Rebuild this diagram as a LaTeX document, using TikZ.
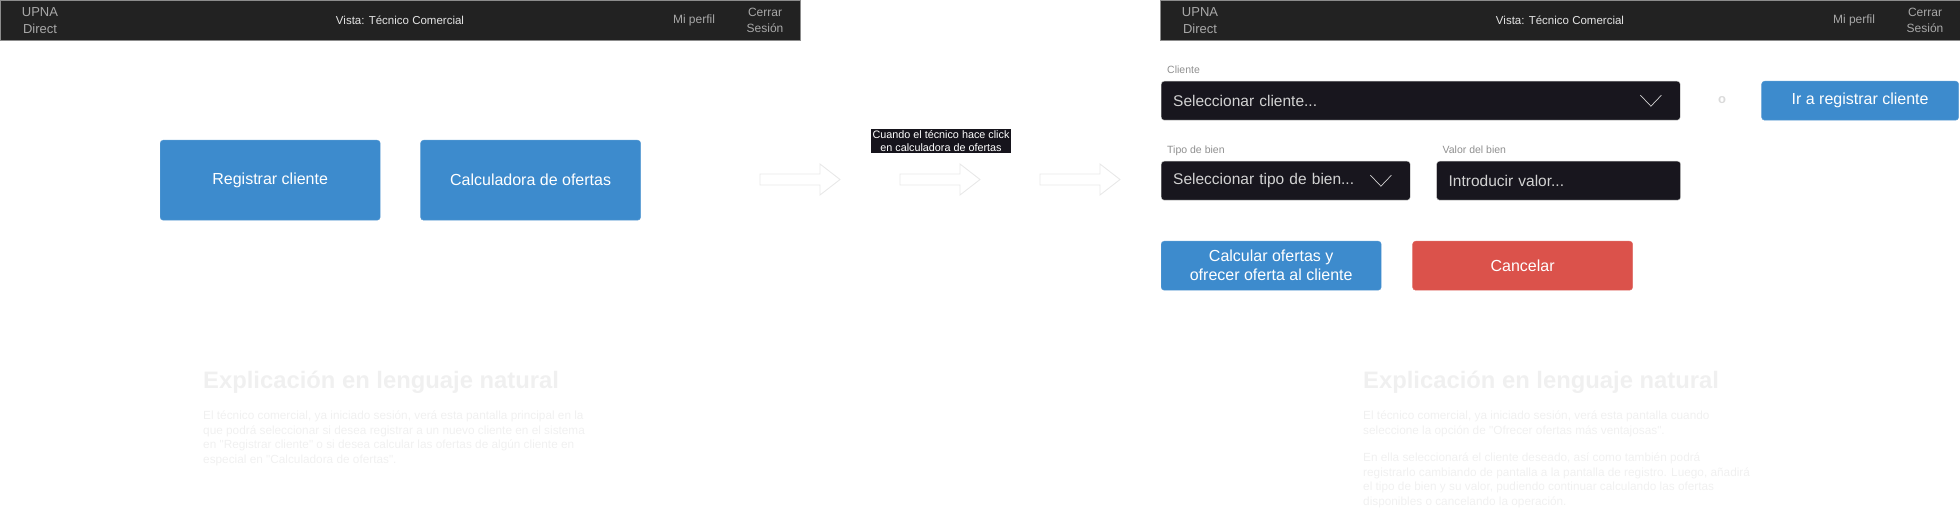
\documentclass[tikz,border=0pt]{standalone}
\usepackage{fontspec}
\setmainfont{Liberation Sans}[Ligatures=TeXOff]
\usetikzlibrary{positioning}

\definecolor{barbg}{HTML}{222222}
\definecolor{barline}{HTML}{8C8C8C}
\definecolor{upnagray}{HTML}{A8A8A8}
\definecolor{vistagray}{HTML}{E4E4E4}
\definecolor{btnblue}{HTML}{3D8BCD}
\definecolor{btnred}{HTML}{DB524B}
\definecolor{fieldbg}{HTML}{18161E}
\definecolor{fieldline}{HTML}{CFCFCF}
\definecolor{fieldtext}{HTML}{D2D2D2}
\definecolor{labelgray}{HTML}{8F8F8F}
\definecolor{ghost}{HTML}{F0F0F0}
\definecolor{arrowline}{HTML}{E8E8E8}
\definecolor{notebg}{HTML}{16141C}

\tikzset{
    topbar/.style={fill=barbg, draw=barline, line width=1pt, minimum width=800pt,
        minimum height=40pt, inner sep=0pt, anchor=north west},
    bartext/.style={align=center, inner sep=0pt, font=\fontsize{12}{16}\selectfont},
    bigbtn/.style={fill=btnblue, draw=btnblue!85!white, rounded corners=3pt, text=white,
        minimum width=220pt, minimum height=80pt, inner sep=0pt,
        font=\fontsize{16}{19}\selectfont, align=center},
    smallbtn/.style={bigbtn, minimum height=49pt},
    field/.style={fill=fieldbg, draw=fieldline, rounded corners=3pt, text=fieldtext,
        minimum height=39pt, inner xsep=12pt, inner ysep=0pt, align=left,
        font=\fontsize{15.5}{18}\selectfont, anchor=north west},
    fieldlabel/.style={text=labelgray, inner sep=0pt, anchor=base west,
        font=\fontsize{10.5}{12}\selectfont},
    chevron/.style={draw=fieldtext, line width=0.7pt},
    ghosttitle/.style={text=ghost, inner sep=0pt, anchor=base west,
        font=\fontsize{23.8}{28}\selectfont\bfseries},
    ghostbody/.style={text=ghost, inner sep=0pt, anchor=north west, align=left,
        font=\fontsize{11.8}{14.5}\selectfont},
    ghostarrow/.style={draw=arrowline, line width=0.9pt},
}

\begin{document}
\begin{tikzpicture}[x=1pt,y=-1pt]
    \useasboundingbox (0,0) rectangle (1960,513);

    % Left screen: header
    \node[topbar] (barleft) at (0,0) {};
    \node[bartext, text=upnagray, font=\fontsize{13}{17}\selectfont] (upnaleft) at (40,20.5) {UPNA\\Direct};
    \node[bartext, text=vistagray, font=\fontsize{11.5}{14}\selectfont] (vistaleft) at (400,20) {Vista: Técnico Comercial};
    \node[bartext, text=upnagray] (perfilleft) at (694,20) {Mi perfil};
    \node[bartext, text=upnagray] (cerrarleft) at (765,20.5) {Cerrar\\Sesión};

    % Left screen: main buttons
    \node[bigbtn, anchor=north west] (registrar) at (160,140) {Registrar cliente};
    \node[bigbtn, right=40pt of registrar] (calculadora) {Calculadora de ofertas};

    % Left screen: explanation (very light)
    \node[ghosttitle] (titleleft) at (203,388) {Explicación en lenguaje natural};
    \node[ghostbody] (textleft) at (203,411) {El técnico comercial, ya iniciado sesión, verá esta pantalla principal en la\\
        que podrá seleccionar si desea registrar a un nuevo cliente en el sistema\\
        en "Registrar cliente" o si desea calcular las ofertas de algún cliente en\\
        especial en "Calculadora de ofertas".};

    % Hollow arrows between the screens
    \foreach \x in {760,900,1040}
        \draw[ghostarrow] (\x,174) -- (\x+60,174) -- (\x+60,164) -- (\x+80,179.5)
            -- (\x+60,195) -- (\x+60,185) -- (\x,185) -- cycle;
    \node[fill=notebg, text=white, inner xsep=1.5pt, inner ysep=1.5pt, align=center,
        font=\fontsize{10.8}{12.5}\selectfont] (nota) at (941,141)
        {Cuando el técnico hace click\\en calculadora de ofertas};

    % Right screen: header
    \node[topbar] (barright) at (1160,0) {};
    \node[bartext, text=upnagray, font=\fontsize{13}{17}\selectfont] (upnaright) at (1200,20.5) {UPNA\\Direct};
    \node[bartext, text=vistagray, font=\fontsize{11.5}{14}\selectfont] (vistaright) at (1560,20) {Vista: Técnico Comercial};
    \node[bartext, text=upnagray] (perfilright) at (1854,20) {Mi perfil};
    \node[bartext, text=upnagray] (cerrarright) at (1925,20.5) {Cerrar\\Sesión};

    % Right screen: client row
    \node[field, text width=495pt] (cliente) at (1161,81) {Seleccionar cliente...};
    \draw[chevron] ([shift={(-40,-5.5)}]cliente.east) -- ([shift={(-29.5,5.5)}]cliente.east)
        -- ([shift={(-19,-5.5)}]cliente.east);
    \node[fieldlabel] (lblcliente) at ([xshift=6pt,yshift=7pt]cliente.north west) {Cliente};
    \node[text=ghost!80!gray, font=\fontsize{13}{15}\selectfont\bfseries] (oletra) at (1722,100.5) {o};
    \node[smallbtn, minimum width=197pt, minimum height=39pt, right=81pt of cliente] (irregistrar) {Ir a registrar cliente};

    % Right screen: type and value row
    \node[field, text width=225pt] (tipo) at (1161,161) {Seleccionar tipo de bien...};
    \draw[chevron] ([shift={(-40,-5.5)}]tipo.east) -- ([shift={(-29.5,5.5)}]tipo.east)
        -- ([shift={(-19,-5.5)}]tipo.east);
    \node[fieldlabel] (lbltipo) at ([xshift=6pt,yshift=7pt]tipo.north west) {Tipo de bien};
    \node[field, text width=220pt, right=26pt of tipo] (valor) {Introducir valor...};
    \node[fieldlabel] (lblvalor) at ([xshift=6pt,yshift=7pt]valor.north west) {Valor del bien};

    % Right screen: action buttons
    \node[smallbtn, anchor=north west] (calcular) at (1161,241) {Calcular ofertas y\\ofrecer oferta al cliente};
    \node[smallbtn, fill=btnred, draw=btnred!85!white, right=31pt of calcular] (cancelar) {Cancelar};

    % Right screen: explanation (very light)
    \node[ghosttitle] (titleright) at (1363,388) {Explicación en lenguaje natural};
    \node[ghostbody] (textright) at (1363,411) {El técnico comercial, ya iniciado sesión, verá esta pantalla cuando\\
        seleccione la opción de "Ofrecer ofertas más ventajosas".\\[13pt]
        En ella seleccionará el cliente deseado, así como también podrá\\
        registrarlo cambiando de pantalla a la pantalla de registro. Luego, añadirá\\
        el tipo de bien y su valor, pudiendo continuar calculando las ofertas\\
        disponibles o cancelando la operación.};
\end{tikzpicture}
\end{document}
